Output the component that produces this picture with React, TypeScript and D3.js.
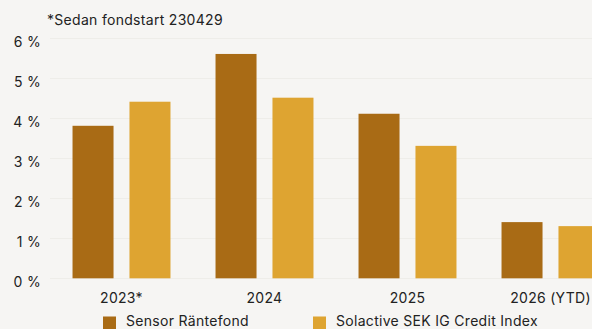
import React, { useEffect, useRef } from "react";
import * as d3 from "d3";

const categories = ["2023*", "2024", "2025", "2026 (YTD)"];
const seriesNames = ["Sensor Räntefond", "Solactive SEK IG Credit Index"];
const sensorValues = [3.8, 5.59, 4.1, 1.4];
const indexValues = [4.4, 4.5, 3.3, 1.3];
const yTicks = [0, 1, 2, 3, 4, 5, 6];
const colors = ["#a96b15", "#dea431"];
const title = "*Sedan fondstart 230429";

const W = 592;
const H = 329;
const FONT = "Inter, 'DejaVu Sans', sans-serif";
const LS = 0.3;

export default function App() {
  const ref = useRef<SVGSVGElement | null>(null);

  useEffect(() => {
    const svg = d3.select(ref.current);
    svg.selectAll("*").remove();

    const left = 50;
    const right = 622;
    const y = d3.scaleLinear().domain([0, 6]).range([278.3, 37.5]);
    const x0 = d3
      .scaleBand<string>()
      .domain(categories)
      .range([left, right])
      .paddingInner(0.315)
      .paddingOuter(0.1575);
    const x1 = d3
      .scaleBand<string>()
      .domain(seriesNames)
      .range([0, x0.bandwidth()])
      .paddingInner(0.28)
      .paddingOuter(0);

    svg.append("rect").attr("width", W).attr("height", H).attr("fill", "#f6f5f3");

    svg
      .append("g")
      .selectAll("line")
      .data(yTicks)
      .join("line")
      .attr("x1", left)
      .attr("x2", right)
      .attr("y1", (d) => Math.round(y(d)) + 0.5)
      .attr("y2", (d) => Math.round(y(d)) + 0.5)
      .attr("stroke", "#eeede9")
      .attr("stroke-width", 1);

    const txt = (sel: any) =>
      sel
        .attr("font-family", FONT)
        .attr("font-size", 14)
        .attr("letter-spacing", LS)
        .attr("fill", "#222");

    svg
      .append("g")
      .selectAll("text")
      .data(yTicks)
      .join("text")
      .attr("x", 41)
      .attr("y", (d) => y(d) + 9)
      .attr("text-anchor", "end")
      .call(txt)
      .text((d) => `${d} %`);

    const rows = categories.map((c, i) => ({
      cat: c,
      vals: [sensorValues[i], indexValues[i]],
    }));
    const g = svg
      .append("g")
      .selectAll("g")
      .data(rows)
      .join("g")
      .attr("transform", (d) => `translate(${x0(d.cat)},0)`);
    g.selectAll("rect")
      .data((d) => d.vals.map((v, j) => ({ v, s: seriesNames[j], j })))
      .join("rect")
      .attr("x", (d) => x1(d.s)!)
      .attr("width", x1.bandwidth())
      .attr("y", (d) => y(d.v))
      .attr("height", (d) => y(0) - y(d.v))
      .attr("fill", (d) => colors[d.j]);

    svg
      .append("g")
      .selectAll("text")
      .data(categories)
      .join("text")
      .attr("y", 302.5)
      .attr("text-anchor", "middle")
      .call(txt)
      .text((d) => d)
      .each(function (d) {
        const el = this as SVGTextElement;
        const w = el.getComputedTextLength();
        const c = x0(d)! + x0.bandwidth() / 2;
        const cx = Math.min(c, W - w / 2);
        d3.select(el).attr("x", cx);
      });

    svg
      .append("text")
      .attr("x", 47)
      .attr("y", 25)
      .call(txt)
      .text(title);

    const legendX = [103, 313];
    const lg = svg
      .append("g")
      .selectAll("g")
      .data(seriesNames)
      .join("g")
      .attr("transform", (_d, i) => `translate(${legendX[i]},316.5)`);
    lg.append("rect")
      .attr("width", 13)
      .attr("height", 13)
      .attr("fill", (_d, i) => colors[i]);
    lg.append("text")
      .attr("x", 23)
      .attr("y", 9)
      .call(txt)
      .text((d) => d);
  }, []);

  return (
    <svg
      ref={ref}
      width={W}
      height={H}
      style={{ position: "absolute", left: 0, top: 0, display: "block" }}
    />
  );
}
